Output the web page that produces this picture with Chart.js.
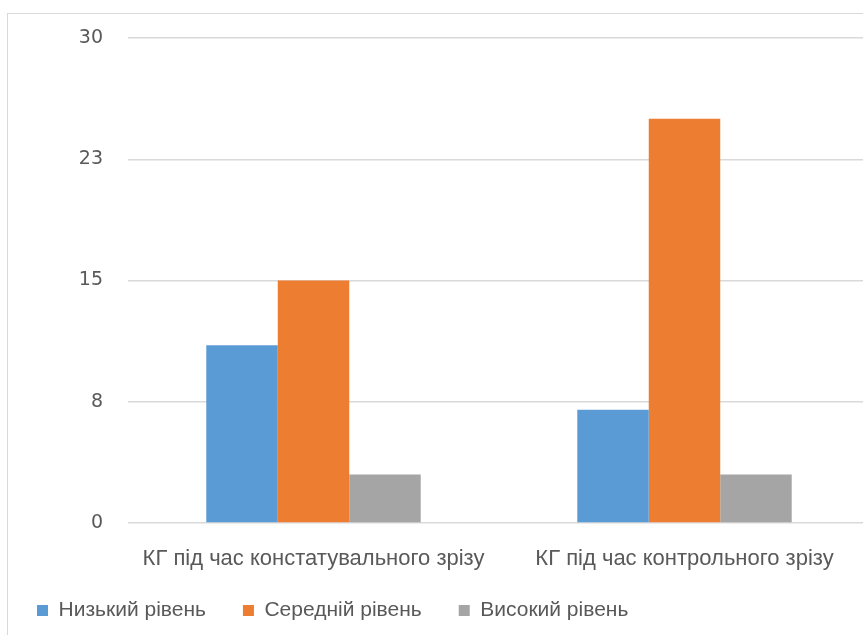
<!DOCTYPE html>
<html>
<head>
<meta charset="utf-8">
<script src="https://cdn.jsdelivr.net/npm/chart.js@4/dist/chart.umd.min.js"></script>
<style>
  html, body { margin: 0; padding: 0; background: #fff; overflow: hidden; }
  body { width: 863px; height: 635px; position: relative; }
  #frame { position: absolute; left: 7px; top: 13px; width: 900px; height: 700px; border: 1px solid #d9d9d9; box-sizing: border-box; }
  #wrap { position: absolute; left: 0; top: 0; width: 880px; height: 635px; }
</style>
</head>
<body>
<div id="frame"></div>
<div id="wrap"><canvas id="c"></canvas></div>
<script>
const categories = ['КГ під час констатувального зрізу', 'КГ під час контрольного зрізу'];
const seriesNames = ['Низький рівень', 'Середній рівень', 'Високий рівень'];
const lowLevel = [11, 7];
const midLevel = [15, 25];
const highLevel = [3, 3];
const yTicks = [0, 7.5, 15, 22.5, 30];

const colors = ['#5b9bd5', '#ed7d31', '#a5a5a5'];
const narrow = '"Liberation Sans Narrow", "Liberation Sans", sans-serif';

// Keep the legend band compact so the plot can use the height below the axis
const compactLegend = {
  id: 'compactLegend',
  afterInit(chart) {
    const lg = chart.legend;
    if (!lg) return;
    const fit = lg.fit.bind(lg);
    lg.fit = function () { fit(); this.height = 72; };
  }
};

new Chart(document.getElementById('c'), {
  type: 'bar',
  data: {
    labels: categories,
    datasets: [lowLevel, midLevel, highLevel].map((d, i) => ({
      label: seriesNames[i],
      data: d,
      backgroundColor: colors[i],
      borderWidth: 0,
      barPercentage: 1,
      categoryPercentage: 0.578
    }))
  },
  plugins: [compactLegend],
  options: {
    responsive: true,
    maintainAspectRatio: false,
    animation: false,
    layout: { padding: { left: 0, right: 10, top: 38, bottom: 0 } },
    plugins: {
      tooltip: { enabled: false },
      legend: {
        position: 'bottom',
        align: 'start',
        labels: {
          boxWidth: 11,
          boxHeight: 11,
          padding: 37,
          color: '#595959',
          font: { family: narrow, size: 21 }
        }
      }
    },
    scales: {
      x: {
        afterFit: (axis) => {
          axis.height = 40;
          // category labels may hang below the thin axis band
          axis._computeLabelArea = () => undefined;
        },
        grid: { display: false },
        border: { display: false },
        ticks: { color: '#595959', font: { family: narrow, size: 22 }, padding: 15, maxRotation: 0 }
      },
      y: {
        min: 0,
        max: 30,
        afterBuildTicks: (axis) => { axis.ticks = yTicks.map(v => ({ value: v })); },
        afterFit: (axis) => { axis.width = 128; },
        grid: { color: '#d9d9d9', lineWidth: 1.5, drawTicks: false },
        border: { display: false },
        ticks: {
          color: '#595959',
          padding: 25,
          font: { family: '"DejaVu Sans", sans-serif', size: 19 },
          callback: (v) => Math.round(v)
        }
      }
    }
  }
});
</script>
</body>
</html>
